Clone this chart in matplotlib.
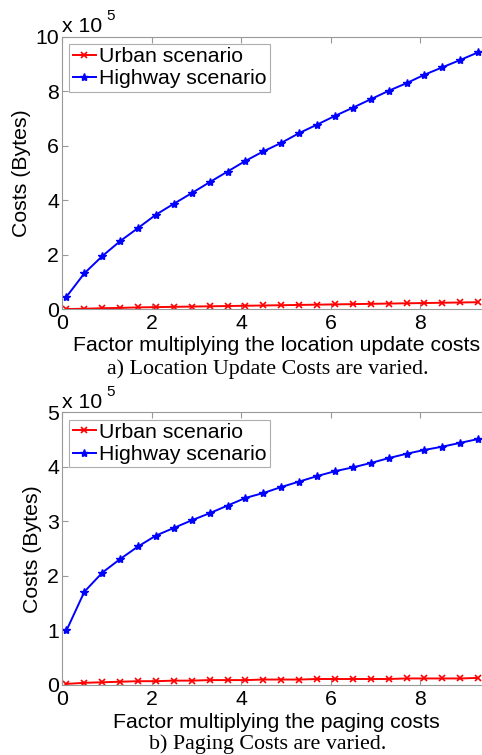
import numpy as np
import matplotlib
matplotlib.use("Agg")
import matplotlib.pyplot as plt

# ---- data ----
factor = [0.1, 0.5, 0.9, 1.3, 1.7, 2.1, 2.5, 2.9, 3.3, 3.7, 4.1, 4.5,
          4.9, 5.3, 5.7, 6.1, 6.5, 6.9, 7.3, 7.7, 8.1, 8.5, 8.9, 9.3]

# a) Location update costs varied (x 1e5 bytes)
urban_a = [0.01, 0.02, 0.04, 0.05, 0.07, 0.08, 0.09, 0.10, 0.11, 0.12, 0.13, 0.14,
           0.15, 0.16, 0.17, 0.18, 0.19, 0.20, 0.21, 0.22, 0.23, 0.24, 0.25, 0.26]
highway_a = [0.46, 1.32, 1.95, 2.50, 2.98, 3.47, 3.87, 4.26, 4.66, 5.05, 5.44, 5.79,
             6.10, 6.46, 6.77, 7.09, 7.39, 7.70, 8.01, 8.29, 8.60, 8.87, 9.14, 9.42]

# b) Paging costs varied (x 1e5 bytes)
urban_b = [0.02, 0.04, 0.05, 0.06, 0.07, 0.07, 0.08, 0.08, 0.09, 0.09, 0.09, 0.10,
           0.10, 0.10, 0.11, 0.11, 0.11, 0.11, 0.11, 0.12, 0.12, 0.12, 0.12, 0.13]
highway_b = [1.00, 1.71, 2.06, 2.31, 2.54, 2.74, 2.88, 3.02, 3.15, 3.29, 3.43, 3.52,
             3.63, 3.73, 3.83, 3.92, 3.99, 4.07, 4.16, 4.24, 4.31, 4.37, 4.44, 4.51]

xticks = [0, 2, 4, 6, 8]
yticks_a = [0, 2, 4, 6, 8, 10]
yticks_b = [0, 1, 2, 3, 4, 5]
labels = ["Urban scenario", "Highway scenario"]
xlabel_a = "Factor multiplying the location update costs"
xlabel_b = "Factor multiplying the paging costs"
caption_a = "a) Location Update Costs are varied."
caption_b = "b) Paging Costs are varied."
ylabel = "Costs (Bytes)"

plt.rcParams['font.family'] = ['Liberation Sans', 'DejaVu Sans']

fig = plt.figure(figsize=(4.82, 7.55), dpi=100)
W, H = 482, 755
LEFT, RIGHT = 62, 491.6

FS = 15.3

for (top_px, bot_px, urban, highway, yticks, ylim, xl, cap, ylx, capy, xly, xpad) in [
        (36.5, 309.3, urban_a, highway_a, yticks_a, (0, 10), xlabel_a, caption_a, 22, 369.5, 345.5, 3.5),
        (412.3, 685.0, urban_b, highway_b, yticks_b, (0, 5), xlabel_b, caption_b, 33, 744.5, 723, 3.5)]:
    hpx = bot_px - top_px
    wpx = RIGHT - LEFT
    ax = fig.add_axes([LEFT / W, 1 - bot_px / H, wpx / W, hpx / H])
    ax.plot(factor, urban, color='#ff0000', marker='x', markersize=4, linewidth=1.4,
            markeredgewidth=1.2, label=labels[0])
    ax.plot(factor, highway, color='#0000ff', marker='*', markersize=6, linewidth=1.4,
            label=labels[1])
    ax.set_xlim(0, 9.6)
    ax.set_ylim(*ylim)
    ax.set_xticks(xticks)
    ax.set_yticks(yticks)
    ax.tick_params(direction='in', top=True, right=True, labelsize=FS, length=4,
                   color='#999999', width=0.8)
    ax.tick_params(axis='x', pad=xpad)
    ax.tick_params(axis='y', pad=2)
    for s in ax.spines.values():
        s.set_color('#999999')
        s.set_linewidth(0.8)
    ax.set_xlabel(xl, fontsize=FS)
    ax.xaxis.label.set_va('center')
    ax.xaxis.set_label_coords(0.5, -(xly - bot_px) / hpx)
    ax.set_ylabel(ylabel, fontsize=FS)
    ax.yaxis.label.set_va('center')
    ax.yaxis.set_label_coords((ylx - LEFT) / wpx, 0.5)
    fig.text(267.5 / W, 1 - capy / H, cap, family='Liberation Serif',
             fontsize=15.8, ha='center', va='center')
    ax.text(0.0, 1.0, "x 10", transform=ax.transAxes, fontsize=FS, ha='left', va='bottom')
    ax.text(0.104, 1.05, "5", transform=ax.transAxes, fontsize=11, ha='left', va='bottom')
    leg = ax.legend(loc='upper left', fontsize=FS, frameon=True, fancybox=False,
                    handlelength=1.1, handletextpad=0.15, borderpad=0.15,
                    labelspacing=0.15, borderaxespad=0.35)
    leg.get_frame().set_edgecolor('#999999')
    leg.get_frame().set_linewidth(0.8)

fig.savefig("out.png", dpi=100)
